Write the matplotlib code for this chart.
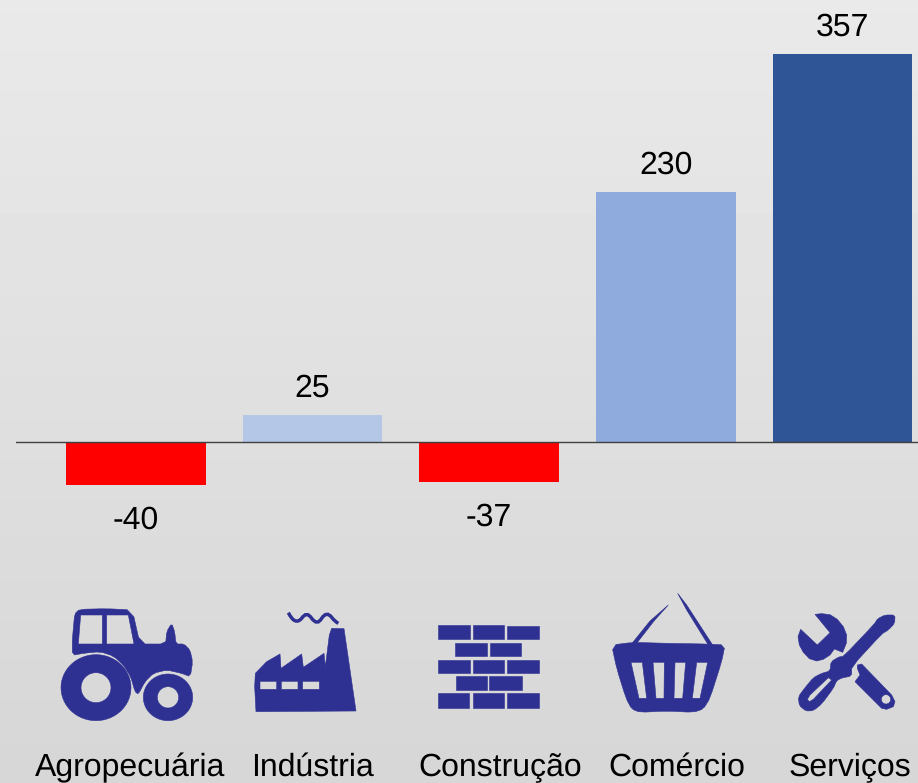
import matplotlib
matplotlib.use('Agg')
import matplotlib.pyplot as plt
from matplotlib.path import Path
from matplotlib.patches import PathPatch
import numpy as np

plt.rcParams['font.family'] = ['Liberation Sans', 'DejaVu Sans']
plt.rcParams['text.hinting'] = 'no_hinting'
plt.rcParams['text.hinting_factor'] = 1

categories = ['Agropecuária', 'Indústria', 'Construção', 'Comércio', 'Serviços']
values = [-40, 25, -37, 230, 357]
bar_colors = ['#ff0000', '#b4c7e7', '#ff0000', '#8faadc', '#2f5597']
icon_color = '#2e3192'


def ring(cx, cy, rx, ry=None):
	ry = rx if ry is None else ry
	t = np.linspace(0, 2 * np.pi, 60, endpoint=False)
	return list(zip(cx + rx * np.cos(t), cy + ry * np.sin(t)))


def box(x0, y0, x1, y1):
	return [(x0, y0), (x1, y0), (x1, y1), (x0, y1)]


def rounded(pts, n=2):
	# corner cutting, so the hand read outlines don't look polygonal
	p = np.array(pts, dtype=float)
	for k in range(n):
		q = np.roll(p, -1, axis=0)
		p = np.column_stack([0.8 * p + 0.2 * q, 0.2 * p + 0.8 * q]).reshape(-1, 2)
	return p


def oriented(pts, sign):
	# holes have to wind the other way round
	p = np.array(pts, dtype=float)
	area = np.sum(p[:, 0] * np.roll(p[:, 1], -1) - np.roll(p[:, 0], -1) * p[:, 1])
	if area * sign < 0:
		p = p[::-1]
	return p


def shape(ax, outer, holes=(), ox=0, oy=0):
	verts = []
	codes = []
	for i, pts in enumerate([outer] + list(holes)):
		p = oriented(pts, 1 if i == 0 else -1) / 3.0 + [ox, oy]
		verts += list(p) + [p[0]]
		codes += [Path.MOVETO] + [Path.LINETO] * (len(p) - 1) + [Path.CLOSEPOLY]
	ax.add_patch(PathPatch(Path(verts, codes), fc=icon_color, ec=icon_color, lw=0.4, joinstyle='round'))


fig = plt.figure(figsize=(9.18, 7.83), dpi=100)

# background gradient
bg = fig.add_axes([0, 0, 1, 1], zorder=0)
grad = np.linspace(0.915, 0.84, 256).reshape(-1, 1)
bg.imshow(grad, cmap='gray', vmin=0, vmax=1, aspect='auto')
bg.axis('off')

# chart
step = 176.6
scale = 1.087
ax = fig.add_axes([16 / 918, 0, 902 / 918, 1], zorder=1)
ax.patch.set_alpha(0)
x = np.arange(len(values))
bars = ax.bar(x, values, width=139.5 / step, color=bar_colors)
ax.axhline(0, color='#404040', lw=1, zorder=3)
ax.set_xlim(-120 / step, 782 / step)
ax.set_ylim(-341 / scale, 442 / scale)
ax.axis('off')
for i, v in enumerate(values):
	off = 19 if v > 0 else -25
	ax.annotate(str(v), (x[i], v), xytext=(0, off), textcoords='offset points',
		ha='center', va='center', fontsize=23.3, color='black')

# icons and labels in pixel coordinates
ov = fig.add_axes([0, 0, 1, 1], zorder=2)
ov.patch.set_alpha(0)
ov.set_xlim(0, 918)
ov.set_ylim(783, 0)
ov.axis('off')

label_x = [130, 312, 500, 677, 850]
label_y = [776, 776, 776, 776, 775]
for name, lx, ly in zip(categories, label_x, label_y):
	ov.text(lx, ly, name, ha='center', va='baseline', fontsize=23.3, color='black')

# tractor
shape(ov, rounded([(97, 196), (97, 150), (100, 115), (104, 72), (118, 58), (200, 56), (277, 60), (300, 162), (377, 162),
	(380, 125), (395, 100), (404, 125), (408, 162), (432, 162), (450, 180), (458, 215), (451, 260),
	(425, 250), (380, 240), (340, 250), (315, 275), (295, 313), (285, 305), (272, 260), (250, 225),
	(220, 198), (180, 185), (130, 190)], 1),
	[[(122, 75), (187, 75), (187, 162), (115, 162)], [(200, 75), (265, 75), (282, 162), (200, 162)]], 40, 590)
shape(ov, ring(168, 293, 105, 99), [ring(168, 293, 45)], 40, 590)
shape(ov, ring(384, 322, 74, 70), [ring(384, 322, 32)], 40, 590)

# factory
shape(ov, [(648, 365), (644, 290), (646, 250), (680, 215), (720, 192), (723, 235), (785, 192), (790, 232),
	(852, 190), (856, 230), (868, 135), (875, 115), (912, 116), (948, 363)],
	[box(660, 274, 710, 298), box(724, 274, 774, 298), box(788, 274, 838, 298)], 40, 590)
smoke = np.array([(745, 68), (765, 108), (785, 85), (800, 62), (815, 85), (832, 108), (845, 85),
	(860, 62), (875, 82), (885, 95), (895, 100)]) / 3.0 + [40, 590]
ov.add_patch(PathPatch(Path(smoke, [Path.MOVETO] + [Path.CURVE3] * 10), fc='none', ec=icon_color, lw=2.5))

# bricks
for b in [(55, 120, 150, 163), (158, 120, 252, 163), (262, 122, 357, 163),
		(106, 173, 201, 213), (209, 173, 304, 213),
		(55, 224, 150, 264), (159, 224, 252, 264), (262, 224, 357, 264),
		(108, 274, 201, 316), (208, 274, 305, 316),
		(55, 323, 148, 368), (159, 325, 251, 368), (261, 323, 357, 368)]:
	shape(ov, box(*b), ox=420, oy=585)

# basket
shape(ov, rounded([(575, 180), (640, 172), (740, 175), (860, 177), (915, 180), (905, 230), (870, 340), (850, 372),
	(820, 382), (740, 378), (660, 382), (635, 372), (618, 340), (590, 250)], 1),
	[[(633, 232), (667, 232), (680, 340), (657, 340)], [(699, 232), (733, 232), (732, 340), (708, 340)],
	[(765, 232), (797, 232), (788, 340), (762, 340)], [(830, 232), (863, 232), (840, 340), (817, 340)]], 420, 585)
shape(ov, [(636, 175), (690, 108), (745, 60), (702, 108), (650, 175)], ox=420, oy=585)
shape(ov, [(773, 25), (800, 60), (878, 180), (865, 180), (800, 75)], ox=420, oy=585)

# tools
shape(ov, [(105, 43), (125, 41), (150, 44), (172, 58), (190, 80), (200, 105), (199, 130), (188, 157), (163, 147),
	(150, 165), (130, 178), (110, 183), (88, 176), (70, 157), (58, 135), (54, 110), (62, 88), (112, 135), (150, 98)],
	ox=780, oy=600)
shape(ov, rounded([(345, 45), (344, 70), (325, 90), (305, 102), (215, 200), (215, 228), (185, 234), (170, 242), (160, 265),
	(125, 312), (100, 332), (78, 333), (58, 317), (55, 290), (75, 263), (100, 233), (125, 220), (150, 213),
	(153, 185), (178, 170), (190, 170), (283, 72), (293, 56), (315, 45)], 1),
	[[(145, 233), (155, 240), (100, 298), (88, 305), (82, 298), (90, 285)]], 780, 600)
shape(ov, [(232, 195), (245, 192), (335, 285), (345, 305), (340, 320), (320, 328), (305, 325), (225, 245),
	(240, 225), (232, 205)], [ring(318, 298, 14)], 780, 600)

fig.savefig('out.png', dpi=100)
